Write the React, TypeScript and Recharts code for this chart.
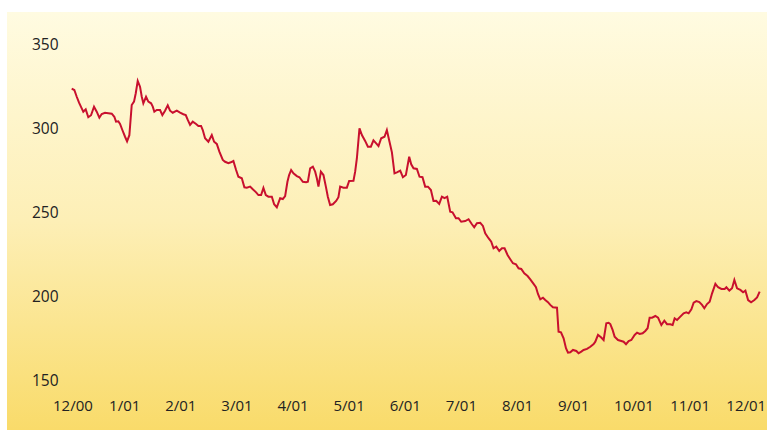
import React from 'react';
import { LineChart, Line, XAxis, YAxis } from 'recharts';

// month labels, one per tick (tick value = months since start of Dec 2000)
const monthLabels = ['12/00', '1/01', '2/01', '3/01', '4/01', '5/01', '6/01', '7/01', '8/01', '9/01', '10/01', '11/01', '12/01'];
const monthTicks = [0, 1, 2, 3, 4, 5, 6, 7, 8, 9, 10, 11, 12];
const yTicks = [150, 200, 250, 300, 350];

// position of each observation in months since the 12/00 tick
const monthPos = [
  0.333, 0.38, 0.423, 0.464, 0.512, 0.54, 0.583, 0.629, 0.678, 0.731, 0.779, 0.826, 0.868, 0.927, 0.986,
  1.047, 1.093, 1.123, 1.164, 1.195, 1.236, 1.284, 1.32, 1.361, 1.403, 1.444, 1.475, 1.51, 1.551, 1.582,
  1.61, 1.658, 1.699, 1.748, 1.778, 1.806, 1.849, 1.908, 1.949, 1.997, 2.045, 2.086, 2.134, 2.206, 2.265,
  2.323, 2.366, 2.402, 2.443, 2.491, 2.55, 2.591, 2.639, 2.669, 2.71, 2.769, 2.83, 2.871, 2.919, 2.965,
  3.026, 3.067, 3.126, 3.169, 3.215, 3.263, 3.304, 3.365, 3.411, 3.454, 3.513, 3.561, 3.62, 3.661, 3.709,
  3.75, 3.793, 3.839, 3.9, 3.941, 3.989, 4.048, 4.096, 4.137, 4.178, 4.208, 4.244, 4.285, 4.346, 4.392,
  4.453, 4.511, 4.542, 4.583, 4.631, 4.672, 4.702, 4.731, 4.774, 4.82, 4.863, 4.898, 4.939, 4.987, 5.046,
  5.087, 5.118, 5.177, 5.237, 5.278, 5.355, 5.385, 5.416, 5.462, 5.505, 5.563, 5.612, 5.665, 5.711, 5.76,
  5.801, 5.849, 5.908, 5.95, 5.997, 6.04, 6.086, 6.129, 6.188, 6.236, 6.289, 6.348, 6.384, 6.425, 6.485,
  6.532, 6.585, 6.633, 6.682, 6.735, 6.781, 6.829, 6.883, 6.931, 6.978, 7.026, 7.079, 7.12, 7.181, 7.227,
  7.275, 7.347, 7.406, 7.466, 7.507, 7.555, 7.614, 7.662, 7.703, 7.762, 7.81, 7.851, 7.9, 7.953, 8.001,
  8.048, 8.101, 8.149, 8.197, 8.251, 8.297, 8.345, 8.399, 8.458, 8.506, 8.565, 8.607, 8.643, 8.684, 8.732,
  8.773, 8.821, 8.862, 8.91, 8.982, 9.01, 9.053, 9.1, 9.142, 9.178, 9.219, 9.267, 9.326, 9.367, 9.415,
  9.456, 9.517, 9.576, 9.635, 9.665, 9.713, 9.766, 9.813, 9.861, 9.902, 9.932, 9.973, 10.009, 10.07, 10.128,
  10.169, 10.212, 10.259, 10.307, 10.366, 10.409, 10.455, 10.508, 10.556, 10.597, 10.633, 10.676, 10.735, 10.783, 10.842,
  10.895, 10.943, 11.002, 11.043, 11.079, 11.122, 11.18, 11.239, 11.287, 11.328, 11.377, 11.418, 11.466, 11.519, 11.567,
  11.608, 11.656, 11.703, 11.746, 11.805, 11.853, 11.912, 11.97, 12.001, 12.054, 12.102, 12.143, 12.191, 12.25, 12.298,
  12.34, 12.388, 12.441, 12.5, 12.548, 12.594,
];

const price = [
  323.4, 322.6, 318.6, 315.1, 311.7, 309.7, 311.1, 306.4, 307.6, 312.7, 309.7, 306.1, 308.3, 309.1, 308.8,
  308.5, 306.7, 303.8, 304.0, 302.4, 298.8, 294.8, 292.1, 295.7, 313.7, 315.7, 320.7, 328.0, 324.6, 318.6,
  314.7, 318.6, 315.7, 314.7, 312.7, 309.7, 310.7, 310.7, 307.7, 310.3, 313.5, 310.3, 309.1, 310.3, 309.1,
  308.2, 307.7, 304.8, 301.8, 303.8, 302.4, 301.2, 301.2, 298.8, 293.9, 291.8, 295.8, 291.8, 290.5, 285.9,
  281.0, 279.9, 279.0, 279.6, 280.4, 275.0, 271.0, 270.1, 264.7, 264.5, 265.1, 263.5, 261.7, 260.1, 260.1,
  264.3, 260.1, 259.1, 259.1, 254.6, 252.8, 258.2, 257.7, 259.5, 268.0, 272.0, 275.0, 273.0, 271.4, 270.7,
  268.0, 267.7, 268.0, 276.0, 277.0, 274.0, 270.1, 265.1, 274.0, 272.0, 265.1, 259.1, 254.2, 254.6, 256.6,
  258.8, 265.1, 264.5, 264.5, 268.5, 268.6, 274.0, 282.0, 299.8, 295.8, 292.3, 288.9, 288.9, 292.7, 290.9,
  289.3, 293.9, 294.8, 298.8, 291.8, 285.5, 273.0, 273.6, 274.6, 270.7, 272.0, 282.9, 278.4, 276.0, 275.6,
  271.0, 270.7, 265.1, 265.1, 263.1, 256.6, 256.7, 254.8, 259.1, 258.2, 259.1, 250.2, 249.8, 246.3, 246.3,
  244.2, 244.6, 245.7, 242.7, 240.9, 243.3, 243.6, 241.7, 237.3, 234.4, 232.3, 228.4, 229.4, 226.8, 228.4,
  228.4, 224.4, 221.9, 219.5, 218.9, 216.5, 216.1, 213.5, 211.9, 209.9, 207.2, 205.2, 201.2, 198.0, 199.0,
  197.6, 196.3, 194.7, 193.3, 193.0, 178.8, 178.4, 174.8, 168.9, 166.3, 166.5, 167.9, 167.3, 165.9, 166.9,
  167.9, 168.5, 169.8, 171.4, 172.8, 176.8, 175.4, 173.8, 183.8, 184.1, 183.3, 179.8, 175.8, 173.8, 173.2,
  172.8, 171.3, 173.2, 173.8, 176.8, 178.2, 177.4, 177.8, 179.2, 180.8, 187.1, 187.1, 188.1, 187.1, 182.7,
  185.3, 183.2, 183.2, 182.7, 186.7, 185.7, 187.7, 189.7, 190.3, 189.7, 192.1, 196.0, 197.0, 196.4, 194.7,
  192.7, 195.2, 196.6, 201.6, 207.2, 205.2, 204.2, 204.2, 205.2, 203.2, 204.6, 209.5, 204.6, 203.6, 202.2,
  203.2, 197.6, 196.3, 197.6, 199.2, 202.6,
];

const data = monthPos.map((m, i) => ({ m, price: price[i] }));

const FONT = "'Open Sans', sans-serif";

const MonthTick = ({ x, payload }: any) => (
  <text x={x} y={410.5} textAnchor="start" fontFamily={FONT} fontSize={15} fill="#222">
    {monthLabels[Math.round(payload.value)]}
  </text>
);

const ValueTick = ({ y, payload }: any) => (
  <text x={32} y={y + 5.5} textAnchor="start" fontFamily={FONT} fontSize={15.5} fill="#222">
    {payload.value}
  </text>
);

export default function App() {
  return (
    <div style={{ position: 'absolute', left: 0, top: 0, width: 767, height: 430, background: '#fff' }}>
      <div
        style={{
          position: 'absolute',
          left: 7,
          top: 12,
          right: 0,
          bottom: 0,
          background: 'linear-gradient(to bottom, #FFFBE1 0%, #FDEFB6 50%, #F9DB6A 100%)',
        }}
      />
      <div style={{ position: 'absolute', left: 0, top: 0 }}>
        <LineChart width={767} height={430} data={data} margin={{ top: 44, right: 7, bottom: 20, left: 0 }}>
          <XAxis
            dataKey="m"
            type="number"
            domain={[0, 12.6]}
            ticks={monthTicks}
            interval={0}
            tick={<MonthTick />}
            axisLine={false}
            tickLine={false}
            height={30}
          />
          <YAxis
            type="number"
            domain={[150, 350]}
            ticks={yTicks}
            interval={0}
            tick={<ValueTick />}
            axisLine={false}
            tickLine={false}
            width={53}
          />
          <Line
            type="linear"
            dataKey="price"
            stroke="#C8102E"
            strokeWidth={2}
            dot={false}
            isAnimationActive={false}
          />
        </LineChart>
      </div>
    </div>
  );
}
